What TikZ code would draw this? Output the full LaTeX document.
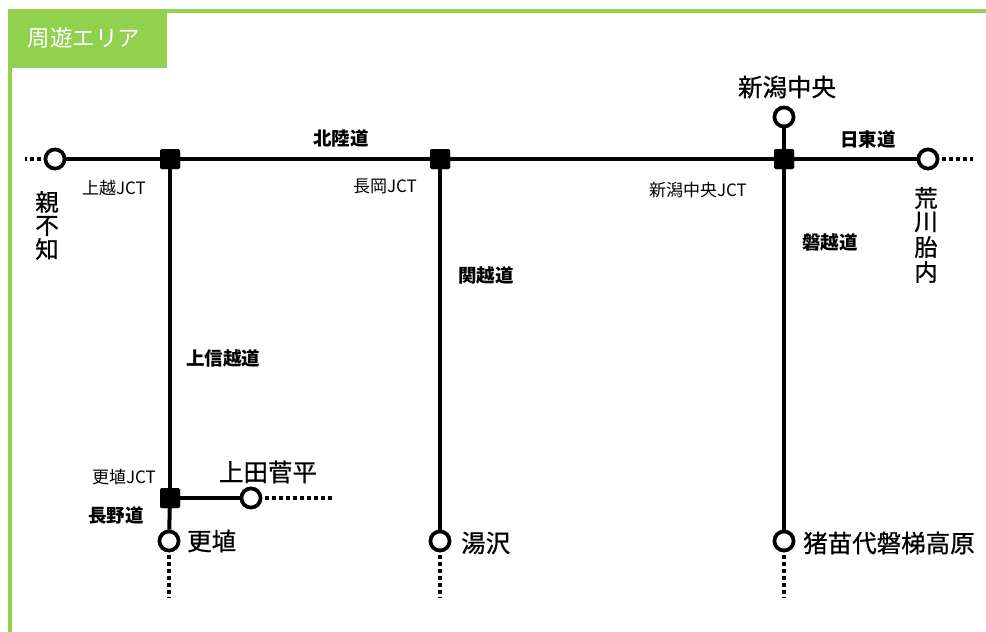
\documentclass[tikz,border=0pt]{standalone}
\usepackage{fontspec}
\setmainfont{Noto Sans CJK JP}
\newfontfamily\jpmed{Noto Sans CJK JP}[FakeBold=0.7]
\definecolor{frameg}{RGB}{146,208,80}
\tikzset{
  road/.style={line width=4pt},
  cont/.style={line width=4pt, dash pattern=on 3.5pt off 3.5pt},
  sta/.style={circle, draw, line width=3.6pt, fill=white, minimum size=19pt, inner sep=0pt},
  jct/.style={rectangle, rounded corners=1.5pt, fill=black, minimum size=20pt, inner sep=0pt},
  big/.style={font=\jpmed\fontsize{24.5}{26}\selectfont, inner sep=0pt},
  small/.style={font=\fontsize{17}{19}\selectfont, inner sep=0pt},
  road label/.style={font=\fontsize{18.5}{20}\selectfont\bfseries, inner sep=0pt},
  vchar/.style={font=\jpmed\fontsize{23.5}{25}\selectfont, inner sep=0pt}
}
\begin{document}
\begin{tikzpicture}[x=1pt,y=-1pt]
\useasboundingbox (0,0) rectangle (986,632);
% frame
\draw[frameg, line width=4pt] (986,11) -- (9.5,11) -- (9.5,632);
\fill[frameg] (7.5,9) rectangle (167,68);
\node[font=\fontsize{22.5}{24}\selectfont, text=white, inner sep=0pt] (title) at (84,38) {周遊エリア};

% nodes
\node[sta] (oya) at (55,159) {};
\node[jct] (joetsu) at (170,159) {};
\node[jct] (nagaoka) at (440,159) {};
\node[jct] (niichu) at (784,159) {};
\node[sta] (arakawa) at (928,159) {};
\node[sta] (niigata) at (784,117) {};
\node[jct] (kosho) at (170,498) {};
\node[sta] (ueda) at (251,498) {};
\node[sta] (kosh) at (169,541) {};
\node[sta] (yuzawa) at (440,541) {};
\node[sta] (inawa) at (784,541) {};

\coordinate (oyaE) at (25,159);
\coordinate (araE) at (973,159);
\coordinate (uedaE) at (335,498);
\coordinate (koshE) at (169,598);
\coordinate (yuzE) at (440,598);
\coordinate (inaE) at (784,598);

% roads
\draw[road] (oya) -- (joetsu) -- (nagaoka) -- (niichu) -- (arakawa);
\draw[road] (joetsu) -- (kosho);
\draw[road] (kosho) -- (kosh);
\draw[road] (kosho) -- (ueda);
\draw[road] (nagaoka) -- (yuzawa);
\draw[road] (niigata) -- (niichu) -- (inawa);
\draw[cont] (oya.west) ++(-3,0) -- (oyaE);
\draw[cont] (arakawa.east) ++(3,0) -- (araE);
\draw[cont] (ueda.east) ++(3,0) -- (uedaE);
\draw[cont] (kosh.south) ++(0,3) -- (koshE);
\draw[cont] (yuzawa.south) ++(0,3) -- (yuzE);
\draw[cont] (inawa.south) ++(0,3) -- (inaE);
% redraw nodes on top of the roads
\foreach \n in {oya,arakawa,niigata,ueda,kosh,yuzawa,inawa} \node[sta] at (\n) {};
\foreach \n in {joetsu,nagaoka,niichu,kosho} \node[jct] at (\n) {};

% road labels
\node[road label] (hokuriku) at (341,138) {北陸道};
\node[road label] (nitto) at (868,139) {日東道};
\node[road label] (banetsu) at (830,242) {磐越道};
\node[road label] (kanetsu) at (486,275) {関越道};
\node[road label] (joshinetsu) at (223,358) {上信越道};
\node[road label] (nagano) at (116,515) {長野道};

% junction labels
\node[small] (l1) at (114,188) {上越JCT};
\node[small] (l2) at (385,186) {長岡JCT};
\node[small] (l3) at (698,190) {新潟中央JCT};
\node[small] (l4) at (124,477) {更埴JCT};

% station names
\node[big] (t1) at (787,87) {新潟中央};
\node[big] (t2) at (268,472) {上田菅平};
\node[big,anchor=west] (t3) at (187,541) {更埴};
\node[big,anchor=west] (t4) at (461,543) {湯沢};
\node[big,anchor=west] (t5) at (803,543) {猪苗代磐梯高原};
\node[vchar] (o1) at (47,202) {親};
\node[vchar] (o2) at (47,226) {不};
\node[vchar] (o3) at (47,249) {知};
\node[vchar] (a1) at (926,198) {荒};
\node[vchar] (a2) at (926,222) {川};
\node[vchar] (a3) at (926,247) {胎};
\node[vchar] (a4) at (926,272) {内};
\end{tikzpicture}
\end{document}
